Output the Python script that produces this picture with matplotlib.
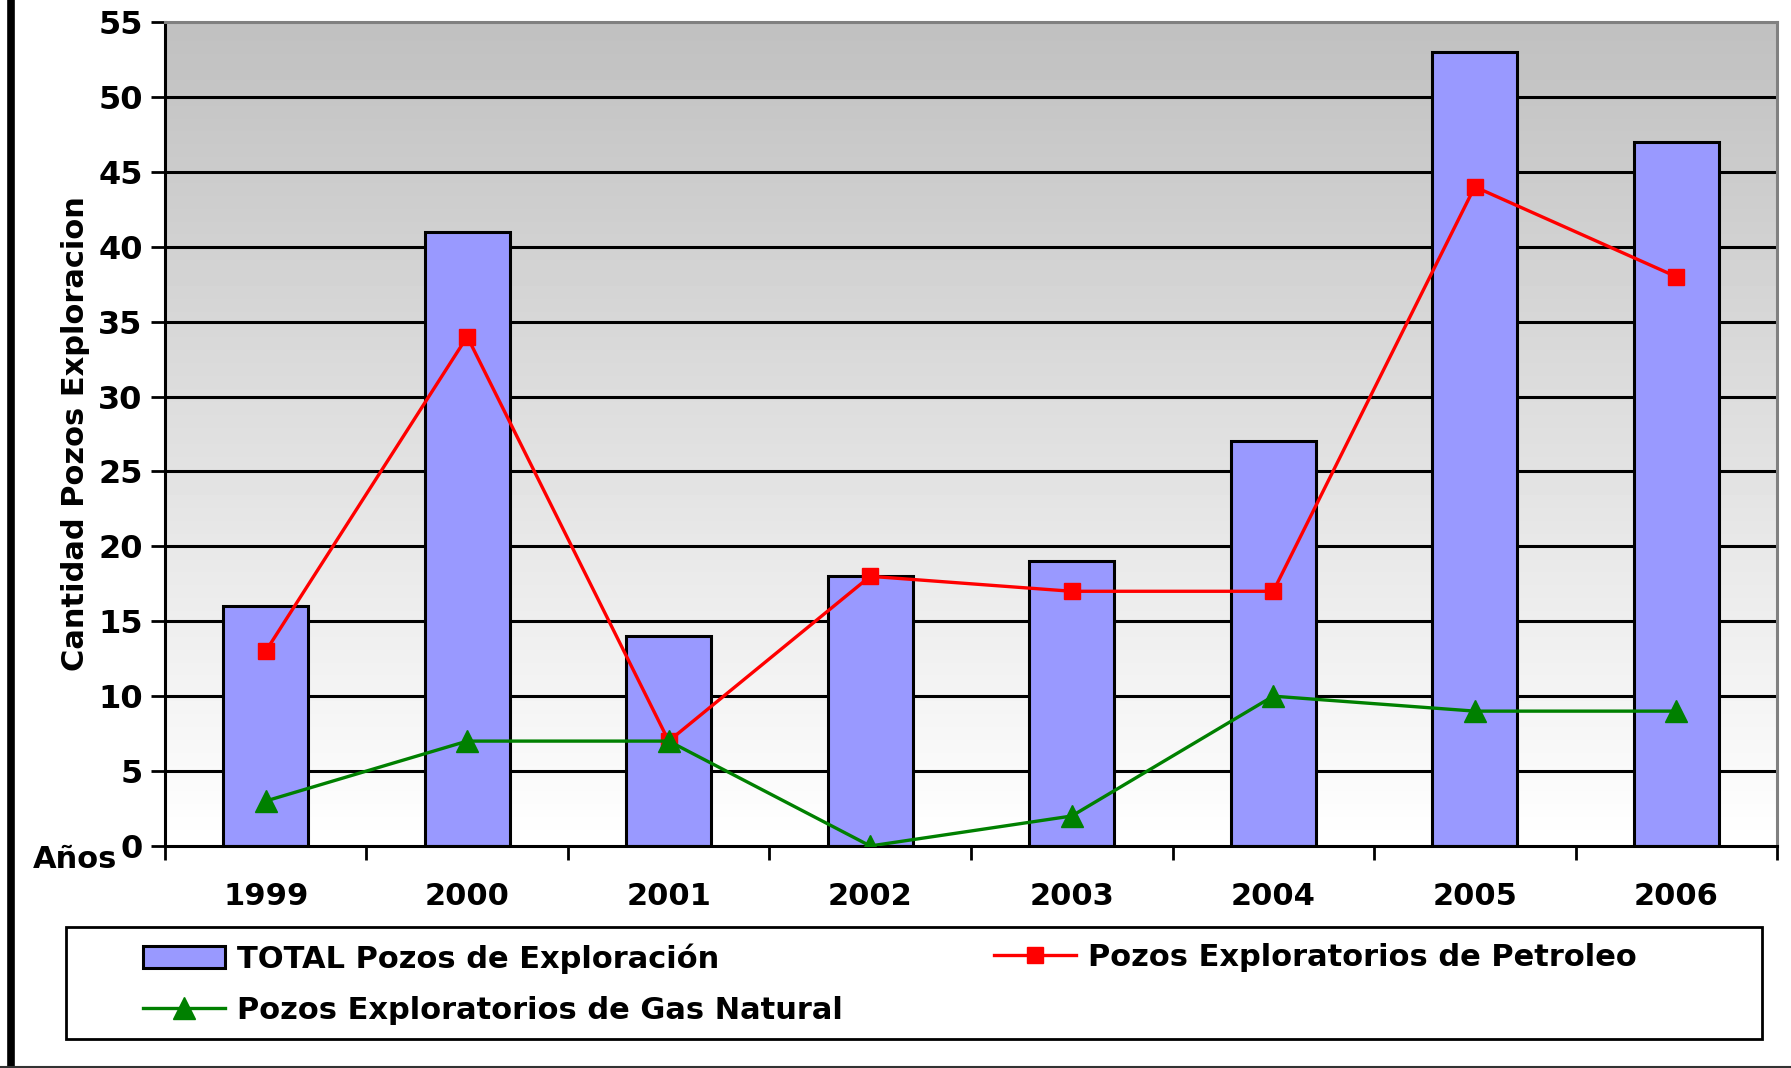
import numpy as np
import matplotlib
matplotlib.use("Agg")
import matplotlib.pyplot as plt
from matplotlib.lines import Line2D
from matplotlib.patches import Patch, Rectangle

# --- datos ---
anios = ["1999", "2000", "2001", "2002", "2003", "2004", "2005", "2006"]
total_pozos = [16, 41, 14, 18, 19, 27, 53, 47]
pozos_petroleo = [13, 34, 7, 18, 17, 17, 44, 38]
pozos_gas = [3, 7, 7, 0, 2, 10, 9, 9]

plt.rcParams["font.family"] = "DejaVu Sans"
plt.rcParams["font.weight"] = "bold"

W, H = 1791, 1068
fig = plt.figure(figsize=(W / 100, H / 100), dpi=100)
ax = fig.add_axes([0.0921, 0.2079, 0.9001, 0.7715])

x = np.arange(len(anios))
ax.set_xlim(-0.5, len(anios) - 0.5)
ax.set_ylim(0, 55)

# fondo degradado: blanco abajo, gris arriba
grad = np.linspace(255, 192, 256).reshape(-1, 1) / 255.0
ax.imshow(grad, extent=(-0.5, len(anios) - 0.5, 0, 55), origin="lower",
          cmap="gray", vmin=0, vmax=1, aspect="auto", zorder=0)

# lineas de grilla
for v in range(5, 55, 5):
    ax.axhline(v, color="black", lw=2.2, zorder=1)

ax.bar(x, total_pozos, width=0.42, color="#9999FF", edgecolor="black",
       linewidth=2.2, zorder=2)
ax.plot(x, pozos_petroleo, color="red", lw=2.4, marker="s", markersize=12,
        zorder=3)
ax.plot(x, pozos_gas, color="green", lw=2.4, marker="^", markersize=16,
        zorder=4)

# ejes
for s in ["left", "bottom"]:
    ax.spines[s].set_color("black")
    ax.spines[s].set_linewidth(2.2)
for s in ["top", "right"]:
    ax.spines[s].set_color("#808080")
    ax.spines[s].set_linewidth(2.2)

ax.set_yticks(range(0, 56, 5))
ax.tick_params(axis="y", length=10, width=2, labelsize=23, pad=6)
ax.set_xticks(x)
ax.set_xticklabels(anios)
ax.set_xticks(np.arange(-0.5, len(anios), 1), minor=True)
ax.tick_params(axis="x", which="major", length=0, labelsize=22, pad=26)
ax.tick_params(axis="x", which="minor", length=10, width=2)

ax.set_ylabel("Cantidad Pozos Exploracion", fontsize=22, fontweight="bold",
              labelpad=6)
fig.text(117 / W, 1 - 860 / H, "Años", fontsize=22, fontweight="bold",
         ha="right", va="center")

# leyenda: marco y dos columnas
fig.add_artist(Rectangle((66 / W, 1 - 1039 / H), (1762 - 66) / W, (1039 - 927) / H,
                         transform=fig.transFigure, fill=False,
                         edgecolor="black", lw=2))
h_total = Patch(facecolor="#9999FF", edgecolor="black", linewidth=2.2)
h_gas = Line2D([], [], color="green", lw=2.4, marker="^", markersize=16)
h_pet = Line2D([], [], color="red", lw=2.4, marker="s", markersize=12)
opts = dict(loc="upper left", frameon=False, fontsize=22, handlelength=2.68,
            handleheight=0.75, handletextpad=0.4, labelspacing=0.74,
            borderpad=0, borderaxespad=0)
leg1 = fig.legend([h_total, h_gas],
                  ["TOTAL Pozos de Exploración", "Pozos Exploratorios de Gas Natural"],
                  bbox_to_anchor=(143 / W, 1 - 943 / H), **opts)
leg2 = fig.legend([h_pet], ["Pozos Exploratorios de Petroleo"],
                  bbox_to_anchor=(994 / W, 1 - 943 / H), **opts)
for lg in (leg1, leg2):
    for t in lg.get_texts():
        t.set_fontweight("bold")

# marco de la figura
fig.add_artist(Line2D([11 / W, 11 / W], [0, 1], color="black", lw=5.5))
fig.add_artist(Line2D([0, 1], [1.5 / H, 1.5 / H], color="#333333", lw=1.5))

fig.savefig("out.png", dpi=100)
